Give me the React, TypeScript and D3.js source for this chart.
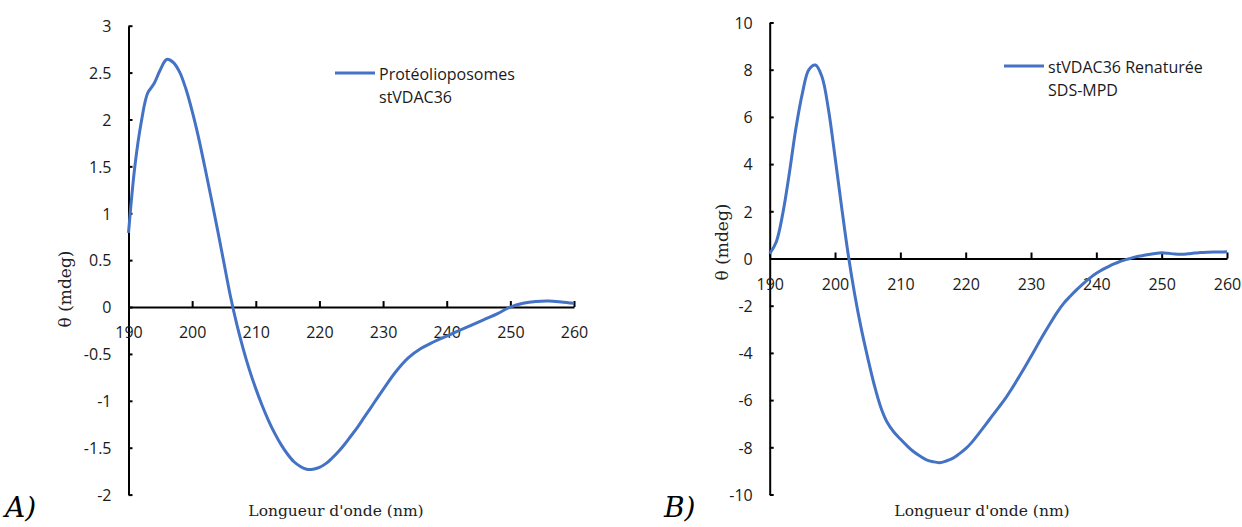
import { useEffect, useRef } from 'react'
import * as d3 from 'd3'

// Panel A : protéoliposomes
const wavelengthsA = [190, 191, 192, 193, 194, 195, 196, 197, 198, 199, 200, 201, 202, 203, 204, 205, 206, 207, 208, 209, 210, 211, 212, 213, 214, 215, 216, 217, 218, 219, 220, 221, 222, 223, 224, 225, 226, 227, 228, 229, 230, 232, 234, 236, 238, 240, 242, 244, 246, 248, 250, 252, 254, 256, 258, 260]
const thetaA = [0.79, 1.5, 1.97, 2.28, 2.38, 2.53, 2.64, 2.61, 2.51, 2.33, 2.09, 1.81, 1.49, 1.16, 0.82, 0.47, 0.12, -0.18, -0.44, -0.67, -0.87, -1.05, -1.21, -1.35, -1.47, -1.57, -1.65, -1.7, -1.73, -1.73, -1.71, -1.67, -1.61, -1.54, -1.46, -1.37, -1.28, -1.18, -1.08, -0.98, -0.88, -0.69, -0.54, -0.44, -0.37, -0.31, -0.25, -0.19, -0.13, -0.07, 0.0, 0.04, 0.06, 0.065, 0.055, 0.04]
const yTicksA = [-2, -1.5, -1, -0.5, 0, 0.5, 1, 1.5, 2, 2.5, 3]

// Panel B : renaturée SDS-MPD
const wavelengthsB = [190, 191, 192, 193, 194, 195, 196, 197, 198, 199, 200, 201, 202, 203, 204, 205, 206, 207, 208, 209, 210, 211, 212, 213, 214, 215, 216, 217, 218, 219, 220, 221, 222, 223, 224, 225, 226, 227, 228, 229, 230, 231, 232, 233, 234, 235, 236, 237, 238, 239, 240, 241, 242, 243, 244, 245, 246, 247, 248, 249, 250, 251, 252, 253, 254, 255, 256, 257, 258, 259, 260]
const thetaB = [0.2, 0.7, 1.9, 3.6, 5.5, 7.0, 8.0, 8.2, 7.7, 6.3, 4.3, 2.2, 0.2, -1.5, -2.95, -4.2, -5.35, -6.3, -6.95, -7.35, -7.65, -7.93, -8.18, -8.37, -8.53, -8.61, -8.65, -8.58, -8.47, -8.28, -8.06, -7.77, -7.42, -7.06, -6.69, -6.33, -5.96, -5.54, -5.09, -4.63, -4.15, -3.66, -3.18, -2.72, -2.28, -1.9, -1.6, -1.32, -1.06, -0.83, -0.63, -0.46, -0.32, -0.2, -0.09, -0.01, 0.07, 0.12, 0.17, 0.21, 0.24, 0.22, 0.19, 0.18, 0.2, 0.23, 0.25, 0.27, 0.28, 0.28, 0.29]
const yTicksB = [-10, -8, -6, -4, -2, 0, 2, 4, 6, 8, 10]

const xTicks = [190, 200, 210, 220, 230, 240, 250, 260]
const legendA = ['Protéolioposomes', 'stVDAC36']
const legendB = ['stVDAC36 Renaturée', 'SDS-MPD']
const xTitle = "Longueur d'onde (nm)"
const yTitle = 'θ (mdeg)'

const BLUE = '#4472C4'
const SANS = '"Open Sans", sans-serif'
const SERIF = '"DejaVu Serif", serif'

interface Panel {
  xs: number[]
  ys: number[]
  yTicks: number[]
  legend: string[]
  letter: string
  xRange: [number, number]
  yRange: [number, number]
  legendX: number
  legendY: number
  xTitleX: number
  yTitleX: number
  yTitleY: number
  letterX: number
}

const panels: Panel[] = [
  {
    xs: wavelengthsA, ys: thetaA, yTicks: yTicksA, legend: legendA, letter: 'A)',
    xRange: [128.5, 574], yRange: [494.6, 25.7],
    legendX: 335, legendY: 73, xTitleX: 336, yTitleX: 65, yTitleY: 289, letterX: 5,
  },
  {
    xs: wavelengthsB, ys: thetaB, yTicks: yTicksB, legend: legendB, letter: 'B)',
    xRange: [769.7, 1227], yRange: [494.5, 22.5],
    legendX: 1004, legendY: 66, xTitleX: 982, yTitleX: 722, yTitleY: 242, letterX: 664,
  },
]

export default function App() {
  const svgRef = useRef<SVGSVGElement>(null)

  useEffect(() => {
    if (!svgRef.current) return
    const svg = d3.select(svgRef.current)
    svg.selectAll('*').remove()

    panels.forEach(p => {
      const yExtent = d3.extent(p.yTicks) as [number, number]
      const x = d3.scaleLinear().domain([190, 260]).range(p.xRange)
      const y = d3.scaleLinear().domain(yExtent).range(p.yRange)
      const g = svg.append('g')

      // y axis, ticks pointing inward
      const yAxis = g.append('g')
        .attr('transform', `translate(${p.xRange[0]},0)`)
        .call(d3.axisLeft(y).tickValues(p.yTicks).tickSizeInner(-4).tickSizeOuter(0).tickPadding(17).tickFormat(d => String(d)))
      yAxis.select('.domain').attr('stroke', '#000').attr('stroke-width', 2)
      yAxis.selectAll('.tick line').attr('stroke', '#000').attr('stroke-width', 2)
      yAxis.selectAll('.tick text')
        .attr('font-family', SANS).attr('font-size', 16).attr('fill', '#1a1a1a').attr('dy', '0.36em')

      // x axis on the zero line, ticks pointing up
      const xAxis = g.append('g')
        .attr('transform', `translate(0,${y(0)})`)
        .call(d3.axisBottom(x).tickValues(xTicks).tickSizeInner(-6).tickSizeOuter(0).tickPadding(20).tickFormat(d => String(d)))
      xAxis.select('.domain').attr('stroke', '#000').attr('stroke-width', 2)
      xAxis.selectAll('.tick line').attr('stroke', '#000').attr('stroke-width', 2)
      xAxis.selectAll('.tick text')
        .attr('font-family', SANS).attr('font-size', 16).attr('fill', '#1a1a1a')

      // curve
      const line = d3.line<number>()
        .x((_, i) => x(p.xs[i]))
        .y(d => y(d))
        .curve(d3.curveCatmullRom.alpha(0.5))
      g.append('path')
        .datum(p.ys)
        .attr('d', line)
        .attr('fill', 'none')
        .attr('stroke', BLUE)
        .attr('stroke-width', 3)
        .attr('stroke-linejoin', 'round')

      // legend
      g.append('line')
        .attr('x1', p.legendX).attr('x2', p.legendX + 40)
        .attr('y1', p.legendY).attr('y2', p.legendY)
        .attr('stroke', BLUE).attr('stroke-width', 3)
      p.legend.forEach((t, i) => {
        g.append('text')
          .attr('x', p.legendX + 44)
          .attr('y', p.legendY + 7 + i * 23)
          .attr('font-family', SANS).attr('font-size', 16).attr('fill', '#1a1a1a')
          .text(t)
      })

      // axis titles
      g.append('text')
        .attr('x', p.xTitleX)
        .attr('y', 516)
        .attr('text-anchor', 'middle')
        .attr('font-family', SERIF).attr('font-size', 15.5).attr('fill', '#222')
        .text(xTitle)
      g.append('text')
        .attr('transform', `translate(${p.yTitleX},${p.yTitleY}) rotate(-90)`)
        .attr('text-anchor', 'middle')
        .attr('dy', '0.35em')
        .attr('font-family', SERIF).attr('font-size', 17).attr('fill', '#222')
        .text(yTitle)

      // panel letter
      g.append('text')
        .attr('x', p.letterX)
        .attr('y', 517)
        .attr('font-family', SERIF).attr('font-style', 'italic').attr('font-size', 28).attr('fill', '#000')
        .text(p.letter)
    })
  }, [])

  return (
    <svg ref={svgRef} width={1242} height={527}
      style={{ position: 'absolute', left: 0, top: 0, background: '#fff' }} />
  )
}
